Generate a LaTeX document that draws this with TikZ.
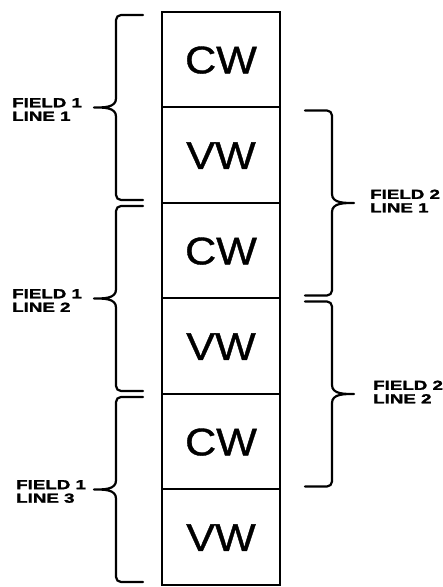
\documentclass[tikz,border=0pt]{standalone}
\usepackage{fontspec}
\usepackage{tikz}
\usetikzlibrary{positioning,calc}
\newfontfamily\cellfont[FakeStretch=1.12,FakeBold=1]{Liberation Sans}
\newfontfamily\tagfont[FakeStretch=1.42,FakeBold=1.8,
  BoldFeatures={FakeStretch=1.42,FakeBold=1.8}]{Liberation Sans}
\definecolor{FLInk}{HTML}{000000}
\definecolor{FLPaper}{HTML}{FFFFFF}
\tikzset{
  cell/.style={draw=FLInk,line width=2pt,minimum width=118pt,minimum height=95.5pt,
               outer sep=0pt,inner sep=0pt,text=FLInk,text height=27.2pt,text depth=0pt,
               font=\cellfont\fontsize{38.5}{40}\selectfont},
  bracestroke/.style={draw=FLInk,line width=2.2pt,line cap=round,line join=round},
  tag/.style={text=FLInk,font=\tagfont\bfseries\fontsize{13.2}{13.5}\selectfont,align=left,
              inner sep=0pt,anchor=west},
  pics/curly/.style={code={
    \draw[bracestroke] (0,92.5) -- (-22,92.5) to[out=180,in=90] (-27,87.5) -- (-27,9)
      to[out=-90,in=0] (-49,0) to[out=0,in=90] (-27,-9) -- (-27,-87.5)
      to[out=-90,in=180] (-22,-92.5) -- (0,-92.5);
  }},
}

\begin{document}
\begin{tikzpicture}[x=1pt,y=1pt]
  \useasboundingbox[fill=FLPaper] (0,0) rectangle (443,587);
  \node[cell,anchor=north west] (cw1) at (162,575) {CW};
  \node[cell,below=0pt of cw1] (vw1) {VW};
  \node[cell,below=0pt of vw1] (cw2) {CW};
  \node[cell,below=0pt of cw2] (vw2) {VW};
  \node[cell,below=0pt of vw2] (cw3) {CW};
  \node[cell,below=0pt of cw3] (vw3) {VW};

  \pic at ($(vw1.north west)+(-19,0)$) {curly};
  \pic at ($(vw2.north west)+(-19,0)$) {curly};
  \pic at ($(vw3.north west)+(-19,0)$) {curly};
  \pic[xscale=-1] at ($(cw2.north east)+(25,0)$) {curly};
  \pic[xscale=-1] at ($(cw3.north east)+(25,0)$) {curly};

  \node[tag] (f1l1) at ($(vw1.north west)+(-150,-2)$) {FIELD 1\\LINE 1};
  \node[tag] (f1l2) at ($(vw2.north west)+(-150,-2)$) {FIELD 1\\LINE 2};
  \node[tag] (f1l3) at ($(vw3.north west)+(-146,-2)$) {FIELD 1\\LINE 3};
  \node[tag] (f2l1) at ($(cw2.north east)+(90,2)$) {FIELD 2\\LINE 1};
  \node[tag] (f2l2) at ($(cw3.north east)+(93,2)$) {FIELD 2\\LINE 2};
\end{tikzpicture}
\end{document}
